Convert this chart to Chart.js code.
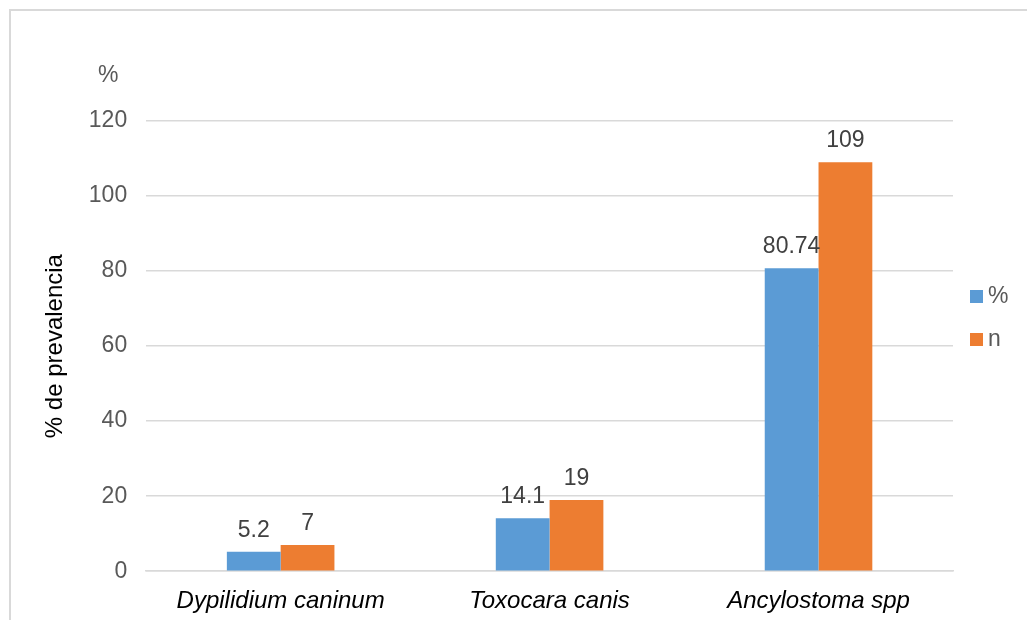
<!DOCTYPE html>
<html>
<head>
<meta charset="utf-8">
<script src="https://cdn.jsdelivr.net/npm/chart.js@4/dist/chart.umd.min.js"></script>
<style>
  html, body { margin: 0; padding: 0; background: #fff; }
  #frame {
    position: absolute; left: 9px; top: 9px; width: 1100px; height: 700px;
    border: 2px solid #d9d9d9; box-sizing: border-box;
  }
  #wrap { position: absolute; left: 0; top: 0; width: 1027px; height: 620px; }
</style>
</head>
<body>
<div id="frame"></div>
<div id="wrap"><canvas id="chart" width="1027" height="620"></canvas></div>
<script>
// Parasites found and their prevalence
const categories = ['Dypilidium caninum', 'Toxocara canis', 'Ancylostoma spp'];
const seriesNames = ['%', 'n'];
const percentValues = [5.2, 14.1, 80.74];
const countValues = [7, 19, 109];
const yMin = 0;
const yMax = 120;
const yStep = 20;

const FONT = "'Liberation Sans', Arial, sans-serif";
const BLUE = '#5B9BD5';
const ORANGE = '#ED7D31';

// Value labels above each bar
const valueLabels = {
  id: 'valueLabels',
  afterDatasetsDraw(chart) {
    const ctx = chart.ctx;
    ctx.save();
    ctx.font = '23px ' + FONT;
    ctx.fillStyle = '#404040';
    ctx.textAlign = 'center';
    ctx.textBaseline = 'alphabetic';
    chart.data.datasets.forEach((ds, di) => {
      const meta = chart.getDatasetMeta(di);
      meta.data.forEach((bar, i) => {
        ctx.fillText(String(ds.data[i]), bar.x, bar.y - 15);
      });
    });
    ctx.restore();
  }
};

// Unit caption above the value axis and the series key on the right
const extras = {
  id: 'extras',
  afterDraw(chart) {
    const ctx = chart.ctx;
    const area = chart.chartArea;
    ctx.save();
    ctx.font = '23px ' + FONT;
    ctx.fillStyle = '#595959';
    ctx.textAlign = 'center';
    ctx.textBaseline = 'middle';
    ctx.fillText('%', area.left - 38, area.top - 45);

    ctx.textAlign = 'left';
    chart.data.datasets.forEach((ds, i) => {
      const bx = area.right + 17;
      const by = area.top + 169 + i * 43;
      ctx.fillStyle = ds.backgroundColor;
      ctx.fillRect(bx, by, 13, 13);
      ctx.fillStyle = '#595959';
      ctx.fillText(ds.label, bx + 18, by + 7);
    });
    ctx.restore();
  }
};

new Chart(document.getElementById('chart'), {
  type: 'bar',
  data: {
    labels: categories,
    datasets: [
      { label: seriesNames[0], data: percentValues, backgroundColor: BLUE,
        categoryPercentage: 0.4, barPercentage: 1.0 },
      { label: seriesNames[1], data: countValues, backgroundColor: ORANGE,
        categoryPercentage: 0.4, barPercentage: 1.0 }
    ]
  },
  options: {
    responsive: false,
    animation: false,
    devicePixelRatio: 1,
    layout: { padding: { top: 121, right: 74, bottom: -12, left: 10 } },
    plugins: {
      legend: { display: false },
      tooltip: { enabled: false }
    },
    scales: {
      x: {
        grid: { display: false, drawTicks: false },
        border: { display: true, color: '#d9d9d9', width: 1.5 },
        ticks: {
          padding: 16,
          color: '#000000',
          font: { family: FONT, size: 24, style: 'italic' }
        }
      },
      y: {
        min: yMin,
        max: yMax,
        ticks: {
          stepSize: yStep,
          padding: 19,
          color: '#595959',
          font: { family: FONT, size: 23 }
        },
        grid: { color: '#d9d9d9', lineWidth: 1.5, drawTicks: false },
        border: { display: false },
        title: {
          display: true,
          text: '% de prevalencia',
          color: '#000000',
          font: { family: FONT, size: 24 },
          padding: { top: 31, bottom: 0 }
        }
      }
    }
  },
  plugins: [valueLabels, extras]
});
</script>
</body>
</html>
